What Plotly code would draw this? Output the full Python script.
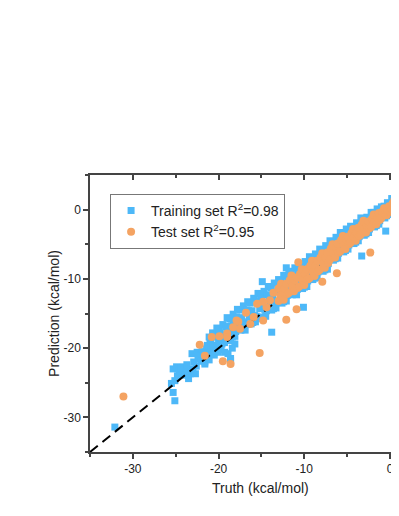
import plotly.graph_objects as go

# ---- data (kcal/mol) ----
train_truth = [
    -32.1, -25.3, -25.1, -25.5, -25.3, -25.1, -24.9, -24.3, -24.1, -23.5,
    -23.3, -22.7, -22.9, -23.1, -22.5, -22.1, -21.6, -21.6, -21.4, -21.0,
    -20.6, -19.8, -18.6, -19.0, -18.3, -18.6, -24.6, -23.9, -22.3, -21.9,
    -21.2, -20.8, -14.9, -13.8, -12.2, -12.1, -12.4, -10.1, -3.3, -0.5,
    -24.8, -24.4, -23.7, -23.6, -23.0, -22.6, -22.4, -22.0, -21.8, -21.5,
    -21.3, -21.1, -20.9, -20.5, -20.3, -20.1, -19.7, -19.3, -18.9, -18.7,
    -18.4, -18.1,
    -21.0, -20.9, -21.1, -20.7, -20.6, -20.8, -20.4, -20.3, -20.5,
    -20.1, -20.0, -20.2, -19.8, -19.7, -19.9, -19.5, -19.4, -19.6,
    -19.2, -19.1, -19.3, -18.9, -18.8, -19.0, -18.6, -18.5, -18.7,
    -18.3, -18.2, -18.4, -18.0, -17.9, -18.1, -17.7, -17.6, -17.8,
    -17.4, -17.3, -17.5, -17.1, -17.0, -17.2, -16.8, -16.7, -16.9,
    -16.5, -16.4, -16.6, -16.2, -16.1, -16.3, -15.9, -15.8, -16.0,
    -15.6, -15.5, -15.7, -15.3, -15.2, -15.4, -15.0, -14.9, -15.1,
    -14.7, -14.6, -14.8, -14.4, -14.3, -14.5, -14.1, -14.0, -14.2,
    -13.8, -13.7, -13.9, -13.5, -13.4, -13.6, -13.2, -13.1, -13.3,
    -12.9, -12.8, -13.0, -12.6, -12.5, -12.7, -12.3, -12.2, -12.4,
    -12.0, -11.9, -12.1, -11.7, -11.6, -11.8, -11.4, -11.3, -11.5,
    -11.1, -11.0, -11.2, -10.8, -10.7, -10.9, -10.5, -10.4, -10.6,
    -10.2, -10.1, -10.3, -9.9, -9.8, -10.0, -9.6, -9.5, -9.7,
    -9.3, -9.2, -9.4, -9.0, -8.9, -9.1, -8.7, -8.6, -8.8,
    -8.4, -8.3, -8.5, -8.1, -8.0, -8.2, -7.8, -7.7, -7.9,
    -7.5, -7.4, -7.6, -7.2, -7.1, -7.3, -6.9, -6.8, -7.0,
    -6.6, -6.5, -6.7, -6.3, -6.2, -6.4, -6.0, -5.9, -6.1,
    -5.7, -5.6, -5.8, -5.4, -5.3, -5.5, -5.1, -5.0, -5.2,
    -4.8, -4.7, -4.9, -4.5, -4.4, -4.6, -4.2, -4.1, -4.3,
    -3.9, -3.8, -4.0, -3.6, -3.5, -3.7, -3.3, -3.2, -3.4,
    -3.0, -2.9, -3.1, -2.7, -2.6, -2.8, -2.4, -2.3, -2.5,
    -2.1, -2.0, -2.2, -1.8, -1.7, -1.9, -1.5, -1.4, -1.6,
    -1.2, -1.1, -1.3, -0.9, -0.8, -1.0, -0.6, -0.5, -0.7,
    -0.3, -0.2, -0.4, 0.0, 0.1, -0.1, 0.3, 0.4, 0.2,
    0.6, 0.7, 0.5, 0.9, 1.0, 0.8,
]
train_pred = [
    -31.4, -23.0, -24.7, -25.1, -26.4, -27.6, -22.7, -23.7, -22.7, -24.4,
    -23.7, -23.7, -22.0, -20.8, -20.6, -21.0, -22.0, -22.3, -20.1, -19.1,
    -18.4, -17.9, -21.5, -17.0, -16.7, -21.8, -23.2, -23.9, -21.6, -20.5,
    -21.3, -20.0, -10.4, -17.7, -9.5, -8.4, -9.5, -14.1, -6.7, -3.1,
    -24.0, -22.9, -22.4, -23.3, -23.0, -22.6, -21.2, -21.9, -21.0, -20.7,
    -19.6, -21.7, -19.6, -21.0, -19.6, -20.6, -20.2, -20.6, -20.8, -18.9,
    -20.0, -19.4,
    -20.8, -19.3, -18.4, -17.8, -19.7, -20.6, -19.8, -18.1, -20.4,
    -18.2, -18.8, -17.1, -19.6, -18.1, -17.2, -16.6, -18.5, -19.4,
    -18.6, -16.9, -19.2, -16.9, -17.7, -15.6, -18.6, -16.8, -15.8,
    -15.1, -17.4, -18.4, -17.6, -15.5, -18.3, -15.7, -16.5, -14.4,
    -17.4, -15.6, -14.5, -13.9, -16.2, -17.2, -16.6, -14.5, -17.4,
    -14.6, -15.5, -13.3, -16.5, -14.6, -13.5, -12.8, -15.3, -16.3,
    -15.4, -13.3, -16.2, -13.4, -14.3, -12.1, -15.7, -13.7, -12.5,
    -11.8, -14.4, -15.5, -14.6, -12.3, -15.4, -12.5, -13.4, -11.1,
    -14.5, -12.5, -11.3, -10.6, -13.2, -14.3, -13.4, -11.1, -14.2,
    -11.5, -12.4, -10.1, -13.5, -11.5, -10.3, -9.6, -12.2, -13.3,
    -12.4, -10.1, -13.2, -10.3, -11.2, -8.9, -12.3, -10.3, -9.1,
    -8.4, -11.0, -12.1, -11.5, -9.2, -12.3, -9.4, -10.3, -8.0,
    -11.4, -9.4, -8.2, -7.5, -10.1, -11.2, -10.3, -8.0, -11.1,
    -8.2, -9.1, -6.8, -10.1, -8.2, -7.1, -6.4, -8.9, -9.9,
    -9.0, -6.9, -9.8, -7.0, -7.9, -5.7, -8.9, -7.0, -5.9,
    -5.2, -7.7, -8.7, -7.8, -5.7, -8.6, -5.7, -6.5, -4.5,
    -7.3, -5.6, -4.6, -4.0, -6.2, -7.1, -6.3, -4.4, -7.0,
    -4.5, -5.3, -3.3, -6.1, -4.4, -3.4, -2.8, -5.0, -5.9,
    -5.1, -3.4, -5.7, -3.5, -4.1, -2.4, -4.9, -3.4, -2.5,
    -1.9, -3.8, -4.7, -3.9, -2.2, -4.5, -2.3, -2.9, -1.2,
    -3.7, -2.4, -1.6, -1.1, -2.8, -3.5, -2.8, -1.3, -3.3,
    -1.3, -1.9, -0.4, -2.5, -1.2, -0.4, 0.1, -1.6, -2.3,
    -1.6, -0.1, -2.1, -0.3, -0.8, 0.4, -1.2, -0.2, 0.5,
    1.0, -0.4, -0.9, -0.3, 0.9, -0.7, 0.9, 0.5, 1.6,
    0.0, 0.9, 1.5, 1.7, 0.7, 0.2,
]

test_truth = [
    -31.1, -22.2, -21.6, -20.8, -19.9, -19.5, -18.6, -17.7, -19.0, -15.2,
    -10.9, -12.1, -17.9, -10.7, -7.9, -6.2, -2.3, -12.8, -14.0, -14.4,
    -14.8, -15.9, -16.3, -17.5, -19.0, -14.8, -12.8, -16.8, -15.5, -13.6,
    -18.3, -13.0,
    -13.0, -12.9, -12.7, -12.6, -12.4, -12.3, -12.1, -12.0, -11.8, -11.7,
    -11.5, -11.4, -11.2, -11.1, -10.9, -10.8, -10.6, -10.5, -10.3, -10.2,
    -10.0, -9.9, -9.7, -9.6, -9.4, -9.3, -9.1, -9.0, -8.8, -8.7,
    -8.5, -8.4, -8.2, -8.1, -7.9, -7.8, -7.6, -7.5, -7.3, -7.2,
    -7.0, -6.9, -6.7, -6.6, -6.4, -6.3, -6.1, -6.0, -5.8, -5.7,
    -5.5, -5.4, -5.2, -5.1, -4.9, -4.8, -4.6, -4.5, -4.3, -4.2,
    -4.0, -3.9, -3.7, -3.6, -3.4, -3.3, -3.1, -3.0, -2.8, -2.7,
    -2.5, -2.4, -2.2, -2.1, -1.9, -1.8, -1.6, -1.5, -1.3, -1.2,
    -1.0, -0.9, -0.7, -0.6, -0.4, -0.3, -0.1, 0.0, 0.2, 0.3,
    0.5, 0.6,
]
test_pred = [
    -27.0, -19.5, -21.1, -18.4, -18.3, -21.9, -22.3, -16.2, -17.9, -20.7,
    -14.4, -15.9, -16.0, -7.6, -10.4, -9.2, -6.2, -11.2, -13.1, -14.1,
    -16.0, -15.5, -16.5, -17.2, -18.4, -13.3, -12.4, -14.9, -13.6, -12.0,
    -17.0, -11.4,
    -13.2, -11.4, -10.7, -12.3, -13.0, -11.4, -10.7, -12.2, -12.0, -10.2,
    -9.5, -11.1, -11.8, -10.2, -9.8, -11.3, -11.1, -9.3, -8.6, -10.2,
    -10.9, -9.3, -8.6, -10.1, -9.9, -8.1, -7.4, -9.0, -9.6, -8.1,
    -7.4, -8.9, -8.7, -6.9, -6.3, -7.8, -8.4, -6.9, -6.2, -7.7,
    -7.2, -5.6, -5.0, -6.3, -6.9, -5.5, -4.9, -6.2, -6.0, -4.4,
    -3.8, -5.1, -5.7, -4.3, -3.9, -5.0, -4.8, -3.4, -2.8, -4.0,
    -4.5, -3.3, -2.6, -3.8, -3.6, -2.2, -1.6, -2.8, -3.3, -2.3,
    -1.7, -2.7, -2.5, -1.3, -0.7, -1.8, -2.1, -1.1, -0.5, -1.5,
    -1.2, -0.3, 0.2, -0.6, -0.8, 0.0, 0.5, -0.3, 0.0, 0.9,
    1.4, 0.6,
]

diag = [-35, 5]
x_range = [-35, 1.05]
y_range = [-35, 5]
major_vals = [-30, -20, -10, 0]
major_text = ['-30', '-20', '-10', '0']
minor_vals = [-35, -25, -15, -5, 5]

blue = '#4DB8F8'
orange = '#F4A362'
axis_col = '#444444'
font_fam = "Liberation Sans, Arial, sans-serif"

fig = go.Figure()

fig.add_trace(go.Scatter(
    x=train_truth, y=train_pred, mode='markers',
    marker=dict(symbol='square', size=7, color=blue),
    name='Training set R<sup>2</sup>=0.98'
))

# y = x reference line
fig.add_trace(go.Scatter(
    x=diag, y=diag, mode='lines',
    line=dict(color='black', width=2, dash='10px,6px'),
    showlegend=False, hoverinfo='skip'
))

fig.add_trace(go.Scatter(
    x=test_truth, y=test_pred, mode='markers',
    marker=dict(symbol='circle', size=8, color=orange),
    name='Test set R<sup>2</sup>=0.95'
))

# empty trace so the top axis gets drawn
fig.add_trace(go.Scatter(x=[], y=[], xaxis='x2', showlegend=False))


def axis_style(tickdir):
    return dict(
        showline=True, linecolor=axis_col, linewidth=1.5,
        showgrid=False, zeroline=False,
        tickmode='array', tickvals=major_vals, ticktext=major_text,
        ticks=tickdir, ticklen=5, tickwidth=1.5, tickcolor=axis_col,
        tickfont=dict(size=12, color='#222222'),
        minor=dict(tickmode='array', tickvals=minor_vals, ticks=tickdir,
                   ticklen=3, tickwidth=1.5, tickcolor=axis_col),
    )


# the page body has an 8px margin, so the figure is 8px smaller
fig.update_layout(
    width=391, height=508,
    margin=dict(l=82, r=0, t=167, b=64),
    plot_bgcolor='white', paper_bgcolor='white',
    font=dict(family=font_fam, color='#222222'),
    xaxis=dict(range=x_range, **axis_style('outside')),
    xaxis2=dict(range=x_range, overlaying='x', side='top',
                showticklabels=False, **axis_style('inside')),
    yaxis=dict(range=y_range,
               title=dict(text='Prediction (kcal/mol)', font=dict(size=14),
                          standoff=1),
               **axis_style('outside')),
    legend=dict(x=0.065, y=0.932, xanchor='left', yanchor='top',
                bgcolor='white', bordercolor='#777777', borderwidth=1,
                font=dict(size=14, color='#222222'),
                itemsizing='trace'),
    annotations=[dict(text='Truth (kcal/mol)', x=0.553, y=-0.13,
                      xref='paper', yref='paper', xanchor='center',
                      yanchor='middle', showarrow=False,
                      font=dict(size=14, color='#222222'))],
)

fig.write_html("out.html")
